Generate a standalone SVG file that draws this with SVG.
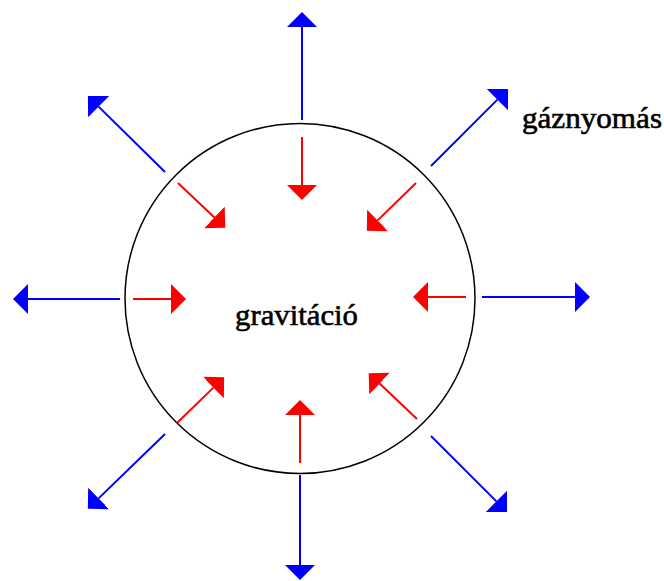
<svg xmlns="http://www.w3.org/2000/svg" width="664" height="581" viewBox="0 0 664 581">
<style>
.bl{stroke:#0000ff;stroke-width:2;fill:none;marker-end:url(#hb)}
.rd{stroke:#ff0000;stroke-width:2;fill:none;marker-end:url(#hr)}
.lbl{font-family:"Liberation Serif","Times New Roman",serif;font-size:30px;fill:#000;stroke:#000;stroke-width:0.6}
</style>
<defs>
<marker id="hb" markerUnits="userSpaceOnUse" viewBox="0 -16 16 32" refX="0" refY="0" markerWidth="16" markerHeight="32" orient="auto"><path d="M0,-15 L15,0 L0,15 Z" fill="#0000ff"/></marker>
<marker id="hr" markerUnits="userSpaceOnUse" viewBox="0 -16 16 32" refX="0" refY="0" markerWidth="16" markerHeight="32" orient="auto"><path d="M0,-15 L15,0 L0,15 Z" fill="#ff0000"/></marker>
</defs>
<rect width="664" height="581" fill="#fff"/>
<g id="star">
<circle cx="300" cy="298.5" r="175" fill="none" stroke="#000" stroke-width="1.5"/>
<text class="lbl" x="235" y="325" textLength="123" lengthAdjust="spacingAndGlyphs">gravitáció</text>
</g>
<g id="pressure-label">
<text class="lbl" x="522" y="128" textLength="140" lengthAdjust="spacingAndGlyphs">gáznyomás</text>
</g>
<g id="connectors">
<line class="bl" x1="302" y1="120" x2="302" y2="27"/>
<line class="bl" x1="431" y1="166" x2="497.4" y2="99.6"/>
<line class="bl" x1="482" y1="297" x2="575" y2="297"/>
<line class="bl" x1="431" y1="436" x2="496.4" y2="501.4"/>
<line class="bl" x1="300" y1="475" x2="300" y2="565"/>
<line class="bl" x1="165" y1="434" x2="98.6" y2="498.4"/>
<line class="bl" x1="120" y1="299" x2="28" y2="299"/>
<line class="bl" x1="165" y1="172" x2="98.6" y2="106.6"/>
<line class="rd" x1="302" y1="137" x2="302" y2="185"/>
<line class="rd" x1="416" y1="183" x2="377.6" y2="220.4"/>
<line class="rd" x1="466" y1="297" x2="428" y2="297"/>
<line class="rd" x1="417" y1="419" x2="379.6" y2="383.6"/>
<line class="rd" x1="300" y1="463" x2="300" y2="415"/>
<line class="rd" x1="177" y1="423" x2="213.4" y2="387.6"/>
<line class="rd" x1="133" y1="299" x2="171" y2="299"/>
<line class="rd" x1="178" y1="183" x2="214.4" y2="217.4"/>
</g>
</svg>
